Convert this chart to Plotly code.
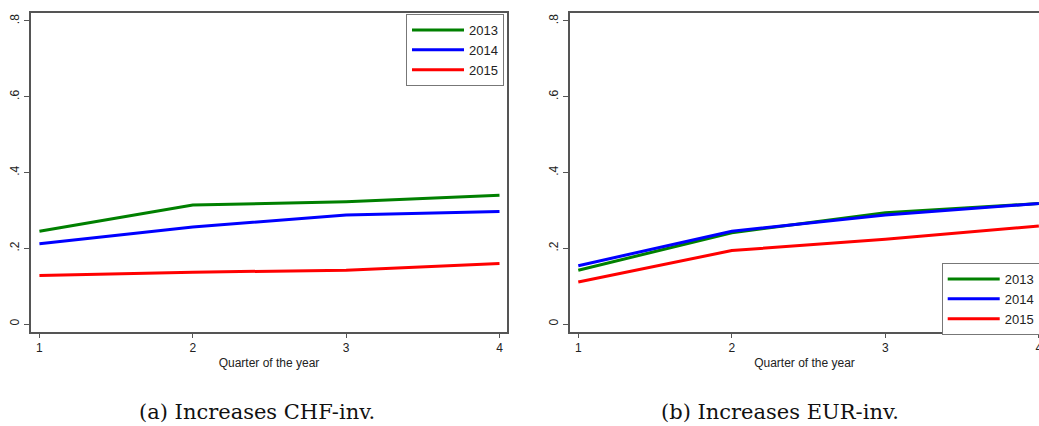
import plotly.graph_objects as go

quarters = [1, 2, 3, 4]
years = ["2013", "2014", "2015"]
colors = {"2013": "#008000", "2014": "#0000ff", "2015": "#ff0000"}

chf_2013 = [0.245, 0.314, 0.323, 0.340]
chf_2014 = [0.212, 0.256, 0.288, 0.297]
chf_2015 = [0.128, 0.137, 0.142, 0.160]

eur_2013 = [0.142, 0.241, 0.294, 0.318]
eur_2014 = [0.154, 0.245, 0.288, 0.318]
eur_2015 = [0.111, 0.194, 0.224, 0.259]

y_ticks = [0, 0.2, 0.4, 0.6, 0.8]
y_ticktext = ["0", ".2", ".4", ".6", ".8"]
x_title = "Quarter of the year"
captions = ["(a) Increases CHF-inv.", "(b) Increases EUR-inv."]

W, H = 1039, 426
fig = go.Figure()

chf = {"2013": chf_2013, "2014": chf_2014, "2015": chf_2015}
eur = {"2013": eur_2013, "2014": eur_2014, "2015": eur_2015}

for yr in years:
    fig.add_trace(go.Scatter(x=quarters, y=chf[yr], mode="lines", name=yr,
                             line=dict(color=colors[yr], width=3),
                             xaxis="x", yaxis="y", legend="legend"))
for yr in years:
    fig.add_trace(go.Scatter(x=quarters, y=eur[yr], mode="lines", name=yr,
                             line=dict(color=colors[yr], width=3),
                             xaxis="x2", yaxis="y2", legend="legend2"))

axcol = "#555555"
sans = "Liberation Sans, Arial"
tickfont = dict(family=sans, size=12, color="#222222")
ydom = [(H - 332) / H, (H - 13) / H]

common_x = dict(tickvals=quarters, ticks="outside", ticklen=4, tickcolor=axcol,
                showline=True, linecolor=axcol, linewidth=2, showgrid=False,
                zeroline=False, tickfont=tickfont, ticklabeloverflow="allow",
                title=dict(text=x_title, font=dict(family=sans, size=12, color="#222222"), standoff=4))
common_y = dict(tickvals=y_ticks, ticktext=y_ticktext, ticks="outside", ticklen=5,
                tickcolor=axcol, showline=True, linecolor=axcol, linewidth=2,
                showgrid=False, zeroline=False, tickangle=-90, tickfont=tickfont,
                range=[-0.021, 0.821], domain=ydom)

legend_common = dict(bordercolor="#777777", borderwidth=1, bgcolor="white",
                     itemwidth=52, font=dict(family=sans, size=13, color="#222222"),
                     tracegroupgap=0)

fig.update_layout(
    width=W, height=H,
    margin=dict(l=0, r=0, t=0, b=0, autoexpand=False),
    paper_bgcolor="white", plot_bgcolor="white",
    xaxis=dict(domain=[31 / W, 507 / W], range=[0.945, 4.049], anchor="y", mirror=True, **common_x),
    yaxis=dict(anchor="x", mirror=True, **common_y),
    xaxis2=dict(domain=[570 / W, 1.0], range=[0.946, 4.001], anchor="y2", mirror=True, **common_x),
    yaxis2=dict(anchor="x2", **common_y),
    legend=dict(x=504 / W, y=(H - 14) / H, xanchor="right", yanchor="top", **legend_common),
    legend2=dict(x=941.7 / W, y=(H - 263) / H, xanchor="left", yanchor="top", **legend_common),
    annotations=[
        dict(text=captions[0], x=257 / W, y=(H - 412) / H, xref="paper", yref="paper",
             showarrow=False, xanchor="center", yanchor="middle",
             font=dict(family="DejaVu Serif", size=21, color="#111111")),
        dict(text=captions[1], x=780 / W, y=(H - 412) / H, xref="paper", yref="paper",
             showarrow=False, xanchor="center", yanchor="middle",
             font=dict(family="DejaVu Serif", size=21, color="#111111")),
    ],
    showlegend=True,
)

fig.write_html("out.html", config={"displayModeBar": False},
               post_script="document.body.style.margin='0';")
